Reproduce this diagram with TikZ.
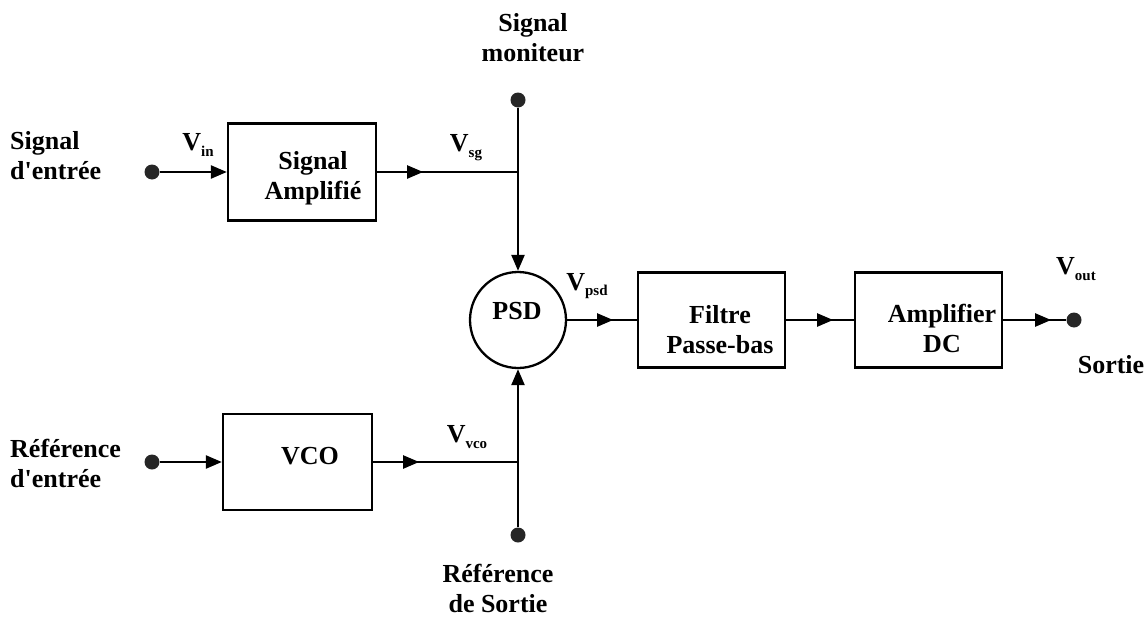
\documentclass[tikz,border=0pt]{standalone}
\usepackage{fontspec}
\setmainfont{Liberation Serif}
\usetikzlibrary{arrows.meta,decorations.markings}
\newcommand\vlab[1]{V\raisebox{-0.22em}{\fontsize{15}{15}\selectfont #1}}
\newcommand\apos{\textquotesingle}
\begin{document}
\begin{tikzpicture}[x=1pt,y=-1pt,
  every node/.style={font=\fontsize{26}{30}\selectfont\bfseries},
  blk/.style={draw,line width=2.3pt,inner sep=0pt},
  lbl/.style={inner sep=0pt,align=center},
  dot/.style={circle,fill=black!85,inner sep=0pt,minimum size=15pt},
  wire/.style={line width=2.3pt},
  tip/.style={-{Triangle[length=16pt,width=13pt]}},
  midtip/.style={postaction={decorate,decoration={markings,
     mark=at position #1 with {\arrow{Triangle[length=16pt,width=13pt]}}}}}
]
\useasboundingbox (0,0) rectangle (1148,621);
% blocks
\node[blk,minimum width=148pt,minimum height=97pt] (sa) at (302,172) {};
\node[blk,minimum width=149pt,minimum height=96pt] (vco) at (297.5,462) {};
\node[blk,circle,minimum size=96pt] (psd) at (518,320) {};
\node[blk,minimum width=147pt,minimum height=95pt] (filt) at (711.5,320) {};
\node[blk,minimum width=147pt,minimum height=95pt] (amp) at (928.5,320) {};
% block texts
\node[lbl] (tsa) at (313,178) {Signal\\Amplifié};
\node[lbl] (tvco) at (310,456) {VCO};
\node[lbl] (tpsd) at (517,311) {PSD};
\node[lbl] (tfilt) at (720,330) {Filtre\\Passe-bas};
\node[lbl] (tamp) at (942,328) {Amplifier\\DC};
% terminals
\node[dot] (in1) at (152,172) {};
\node[dot] (in2) at (152,462) {};
\node[dot] (mon) at (518,100) {};
\node[dot] (rout) at (518,535) {};
\node[dot] (out) at (1074,320) {};
\coordinate (j1) at (518,172);
\coordinate (j2) at (518,462);
% wires
\draw[wire,tip] (in1) -- (sa.west);
\draw[wire,tip] (in2) -- (vco.west);
\draw[wire,tip] (mon) -- (psd.north);
\draw[wire,tip] (rout) -- (psd.south);
\draw[wire,midtip=46pt] (sa.east) -- (j1);
\draw[wire,midtip=46pt] (vco.east) -- (j2);
\draw[wire,midtip=46pt] (psd.east) -- (filt.west);
\draw[wire,midtip=47pt] (filt.east) -- (amp.west);
\draw[wire,midtip=48pt] (amp.east) -- (out);
% labels
\node[lbl,align=left,anchor=west] (lsig) at (10,156) {Signal\\d\apos entrée};
\node[lbl,align=left,anchor=west] (lref) at (10,463) {Référence\\d\apos entrée};
\node[lbl] (lmon) at (533,38) {Signal\\moniteur};
\node[lbl] (lrout) at (498,588) {Référence\\de Sortie};
\node[lbl] (lsortie) at (1111,365) {Sortie};
\node[lbl] (vin) at (198,145) {\vlab{in}};
\node[lbl] (vsg) at (466,148) {\vlab{sg}};
\node[lbl] (vpsd) at (587,286) {\vlab{psd}};
\node[lbl] (vvco) at (467,437) {\vlab{vco}};
\node[lbl] (vout) at (1076,269) {\vlab{out}};
\end{tikzpicture}
\end{document}
